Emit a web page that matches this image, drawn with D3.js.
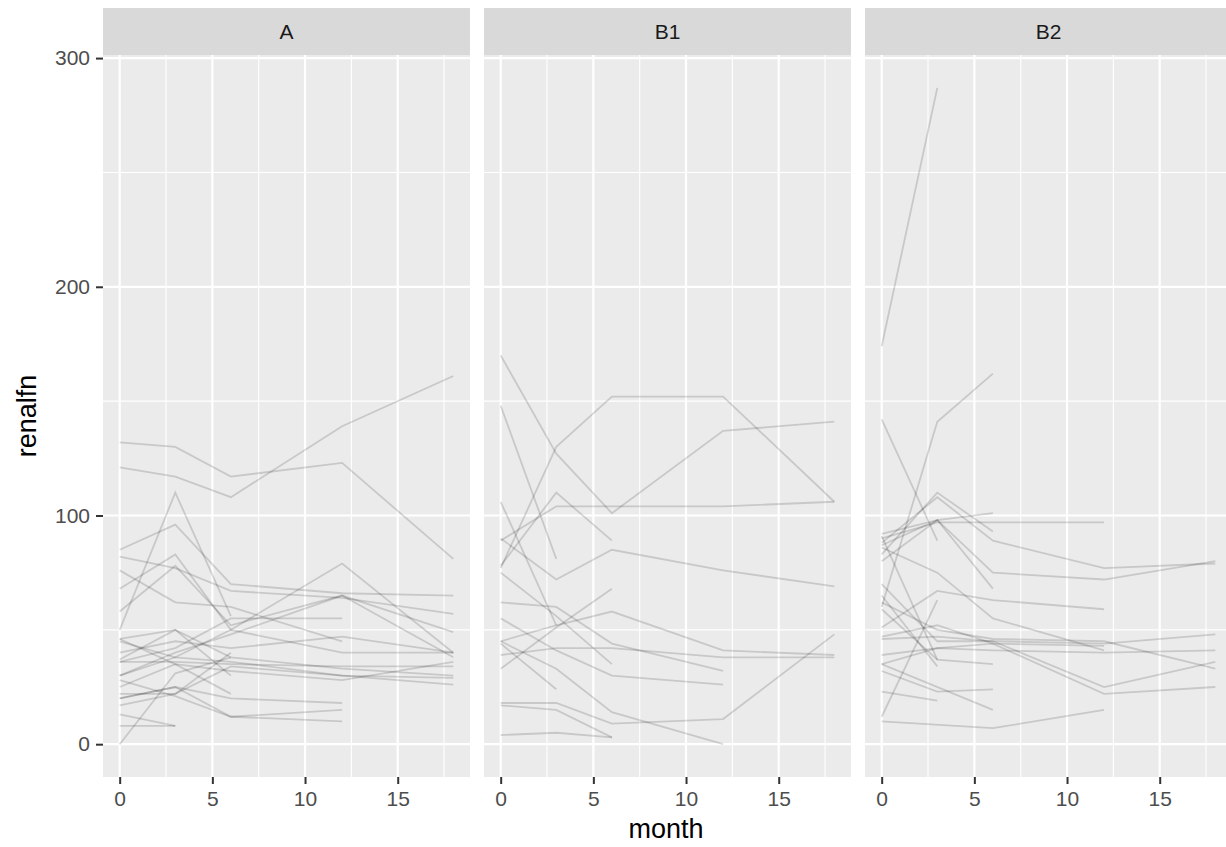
<!DOCTYPE html>
<html>
<head>
<meta charset="utf-8">
<script src="https://cdn.jsdelivr.net/npm/d3@7"></script>
<style>
  body { margin: 0; background: #fff; }
  svg text { font-family: "Liberation Sans", Arial, sans-serif; }
</style>
</head>
<body>
<div id="chart"></div>
<script>
// each subject: [month, renalfn] pairs
const panels = ['A', 'B1', 'B2'];

const linesA = [
  [[0,132],[3,130],[6,117],[12,123],[18,81]],
  [[0,121],[3,117],[6,108],[12,139],[18,161]],
  [[0,50],[3,110],[6,56]],
  [[0,85],[3,96],[6,70],[12,66],[18,65]],
  [[0,82],[3,77],[6,67],[12,64],[18,57]],
  [[0,76],[3,62],[6,60],[12,45]],
  [[0,68],[3,83],[6,50],[12,40],[18,40]],
  [[0,58],[3,78],[6,52],[12,65],[18,49]],
  [[0,0],[3,31],[6,38]],
  [[0,30],[3,38],[6,50],[12,79],[18,40]],
  [[0,46],[3,50],[6,38],[12,33],[18,30]],
  [[0,45],[3,38],[6,36],[12,30],[18,29]],
  [[0,40],[3,45],[6,42],[12,47],[18,40]],
  [[0,37],[3,50],[6,30]],
  [[0,36],[3,42],[6,55],[12,55]],
  [[0,36],[3,36],[6,35],[12,34],[18,34]],
  [[0,30],[3,40],[6,48],[12,65],[18,38]],
  [[0,25],[3,35],[6,32],[12,28],[18,36]],
  [[0,22],[3,22],[6,34],[12,30],[18,26]],
  [[0,20],[3,25],[6,20],[12,18]],
  [[0,20],[3,25],[6,12],[12,10]],
  [[0,17],[3,22],[6,40]],
  [[0,13],[3,8]],
  [[0,8],[3,8]],
  [[0,46],[3,35],[6,22]],
  [[0,28],[3,21],[6,12],[12,15]]
];

const linesB1 = [
  [[0,77],[3,130],[6,152],[12,152],[18,106]],
  [[0,170],[3,127],[6,101],[12,137],[18,141]],
  [[0,148],[3,81]],
  [[0,89],[3,104],[6,104],[12,104],[18,106]],
  [[0,90],[3,72],[6,85],[12,76],[18,69]],
  [[0,78],[3,110],[6,89]],
  [[0,106],[3,52]],
  [[0,75],[3,56],[6,35]],
  [[0,62],[3,60],[6,44],[12,32]],
  [[0,55],[3,41],[6,30],[12,26]],
  [[0,45],[3,52],[6,58],[12,41],[18,39]],
  [[0,33],[3,51],[6,68]],
  [[0,39],[3,42],[6,42],[12,38],[18,38]],
  [[0,44],[3,24]],
  [[0,45],[3,33],[6,14],[12,0]],
  [[0,18],[3,18],[6,9],[12,11],[18,48]],
  [[0,17],[3,15],[6,3]],
  [[0,4],[3,5],[6,3]]
];

const linesB2 = [
  [[0,174],[3,287]],
  [[0,60],[3,141],[6,162]],
  [[0,142],[3,89]],
  [[0,83],[3,110],[6,93]],
  [[0,88],[3,108],[6,89],[12,77],[18,79]],
  [[0,80],[3,98],[6,75],[12,72],[18,80]],
  [[0,92],[3,98],[6,101]],
  [[0,90],[3,97],[6,97],[12,97]],
  [[0,87],[3,98],[6,68]],
  [[0,91],[3,37]],
  [[0,86],[3,75],[6,55],[12,41]],
  [[0,51],[3,67],[6,63],[12,59]],
  [[0,47],[3,52],[6,44],[12,43]],
  [[0,46],[3,47],[6,45],[12,25],[18,36]],
  [[0,35],[3,42],[6,44],[12,22],[18,25]],
  [[0,39],[3,42],[6,41],[12,40],[18,41]],
  [[0,32],[3,23],[6,24]],
  [[0,23],[3,19]],
  [[0,12],[3,63]],
  [[0,10],[6,7],[12,15]],
  [[0,65],[3,34]],
  [[0,59],[3,37],[6,35]],
  [[0,35],[6,15]],
  [[0,70],[3,45],[6,45],[12,44],[18,48]],
  [[0,62],[3,50],[6,46],[12,45],[18,33]]
];

const data = { A: linesA, B1: linesB1, B2: linesB2 };
const xTicks = [0, 5, 10, 15];
const yTicks = [0, 100, 200, 300];

const width = 1226, height = 847;
const panelW = 367, gap = 14, left0 = 103;
const stripTop = 8, stripH = 47, plotTop = 55, plotBottom = 777;
const tickFont = 21;

const svg = d3.select('#chart').append('svg')
  .attr('width', width).attr('height', height);

const y = d3.scaleLinear().domain([-14.35, 301.35]).range([plotBottom, plotTop]);
const x = d3.scaleLinear().domain([-0.9, 18.9]).range([0, panelW]);

panels.forEach((p, i) => {
  const g = svg.append('g')
    .attr('transform', 'translate(' + (left0 + i * (panelW + gap)) + ',0)');

  g.append('rect').attr('x', 0).attr('y', stripTop)
    .attr('width', panelW).attr('height', stripH).attr('fill', '#d9d9d9');
  g.append('text').attr('x', panelW / 2).attr('y', stripTop + stripH / 2)
    .attr('dy', '0.35em').attr('text-anchor', 'middle')
    .style('font-size', tickFont + 'px').attr('fill', '#1a1a1a').text(p);

  g.append('rect').attr('x', 0).attr('y', plotTop)
    .attr('width', panelW).attr('height', plotBottom - plotTop).attr('fill', '#ebebeb');

  // minor grid
  [2.5, 7.5, 12.5, 17.5].forEach(v => {
    g.append('line').attr('x1', x(v)).attr('x2', x(v))
      .attr('y1', plotTop).attr('y2', plotBottom).attr('stroke', '#fff').attr('stroke-width', 1.1);
  });
  [50, 150, 250].forEach(v => {
    g.append('line').attr('y1', y(v)).attr('y2', y(v))
      .attr('x1', 0).attr('x2', panelW).attr('stroke', '#fff').attr('stroke-width', 1.1);
  });
  xTicks.forEach(v => {
    g.append('line').attr('x1', x(v)).attr('x2', x(v))
      .attr('y1', plotTop).attr('y2', plotBottom).attr('stroke', '#fff').attr('stroke-width', 2.2);
  });
  yTicks.forEach(v => {
    g.append('line').attr('y1', y(v)).attr('y2', y(v))
      .attr('x1', 0).attr('x2', panelW).attr('stroke', '#fff').attr('stroke-width', 2.2);
  });

  const line = d3.line().x(d => x(d[0])).y(d => y(d[1]));
  g.selectAll('path.subj').data(data[p]).enter().append('path')
    .attr('class', 'subj')
    .attr('d', line)
    .attr('fill', 'none')
    .attr('stroke', '#000')
    .attr('stroke-opacity', 0.15)
    .attr('stroke-width', 1.8);

  const xa = g.append('g').attr('transform', 'translate(0,' + plotBottom + ')')
    .call(d3.axisBottom(x).tickValues(xTicks).tickSize(7).tickPadding(7));
  xa.select('.domain').remove();
  xa.selectAll('line').attr('stroke', '#333').attr('stroke-width', 2);
  xa.selectAll('text').style('font-size', tickFont + 'px').attr('fill', '#4d4d4d')
    .style('font-family', '"Liberation Sans", Arial, sans-serif');

  if (i === 0) {
    const ya = g.append('g')
      .call(d3.axisLeft(y).tickValues(yTicks).tickSize(7).tickPadding(6));
    ya.select('.domain').remove();
    ya.selectAll('line').attr('stroke', '#333').attr('stroke-width', 2);
    ya.selectAll('text').style('font-size', tickFont + 'px').attr('fill', '#4d4d4d')
      .style('font-family', '"Liberation Sans", Arial, sans-serif');
  }
});

svg.append('text').attr('x', 666).attr('y', 838).attr('text-anchor', 'middle')
  .style('font-size', '27px').attr('fill', '#000').text('month');
svg.append('text')
  .attr('transform', 'translate(36,' + ((plotTop + plotBottom) / 2) + ') rotate(-90)')
  .attr('text-anchor', 'middle').style('font-size', '27px').attr('fill', '#000').text('renalfn');
</script>
</body>
</html>
